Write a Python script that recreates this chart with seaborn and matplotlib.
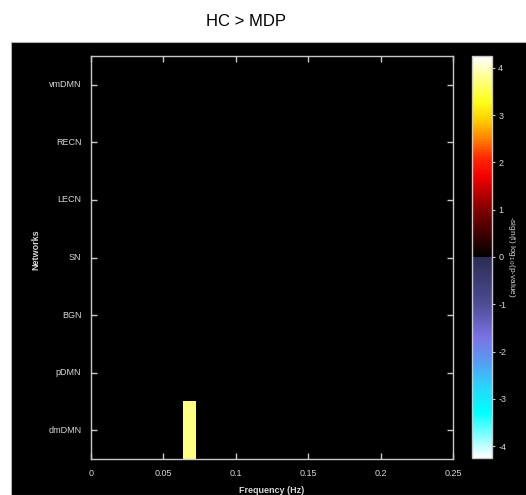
import numpy as np
import pandas as pd
import matplotlib
matplotlib.use("Agg")
import matplotlib.pyplot as plt
import seaborn as sns
from matplotlib.colors import LinearSegmentedColormap
from matplotlib.patches import Rectangle

plt.rcParams["font.family"] = ["Liberation Sans", "DejaVu Sans"]
plt.rcParams["axes.unicode_minus"] = False

# networks, top to bottom
networks = ["vmDMN", "RECN", "LECN", "SN", "BGN", "pDMN", "dmDMN"]
freq_max = 0.25
n_bins = 55
# significant cells: network, freq low, freq high, -sign(t) log10(p)
sig_network = ["dmDMN"]
sig_flo = [0.0636]
sig_fhi = [0.0727]
sig_value = [3.75]
xticks = [0, 0.05, 0.1, 0.15, 0.2, 0.25]
xticklabels = ["0", "0.05", "0.1", "0.15", "0.2", "0.25"]
cticks = [-4, -3, -2, -1, 0, 1, 2, 3, 4]
vlim = 4.25

edges = np.linspace(0, freq_max, n_bins + 1)
centers = (edges[:-1] + edges[1:]) / 2
grid = np.zeros((len(networks), n_bins))
for net, lo, hi, v in zip(sig_network, sig_flo, sig_fhi, sig_value):
    cols = (centers > lo) & (centers < hi)
    grid[networks.index(net), cols] = v
df = pd.DataFrame(grid, index=networks, columns=np.round(centers, 4))

# colormap: cool side below zero, hot side above
stops = [
    (-4.25, (1.0, 1.0, 1.0)),
    (-3.3, (0.0, 1.0, 1.0)),
    (-2.8, (0.15, 0.85, 1.0)),
    (-2.2, (0.35, 0.6, 0.95)),
    (-1.7, (0.48, 0.45, 0.9)),
    (-1.0, (0.3, 0.3, 0.58)),
    (-0.01, (0.17, 0.17, 0.33)),
    (0.0, (0.0, 0.0, 0.0)),
    (1.0, (0.5, 0.0, 0.0)),
    (1.7, (0.95, 0.0, 0.0)),
    (2.1, (1.0, 0.15, 0.0)),
    (2.5, (1.0, 0.5, 0.0)),
    (2.9, (1.0, 0.8, 0.0)),
    (3.3, (1.0, 1.0, 0.1)),
    (3.8, (1.0, 1.0, 0.55)),
    (4.25, (1.0, 1.0, 1.0)),
]
cmap = LinearSegmentedColormap.from_list(
    "hotcold", [((v + vlim) / (2 * vlim), c) for v, c in stops])

W, H = 526, 495
fig = plt.figure(figsize=(W / 100, H / 100), dpi=100)
fig.patches.append(Rectangle((11 / W, 0), 1, 1 - 42 / H, transform=fig.transFigure,
                             facecolor="black", edgecolor="#b0b0b0", linewidth=0.8, zorder=-10))

ax = fig.add_axes([91 / W, 36 / H, 362 / W, 403 / H])
cax = fig.add_axes([472 / W, 37 / H, 20 / W, 402 / H])

sns.heatmap(df, ax=ax, cmap=cmap, vmin=-vlim, vmax=vlim, cbar_ax=cax,
            mask=(df == 0), xticklabels=False, yticklabels=networks)

gray = "#c8c8c8"
ax.set_facecolor("black")
for s in ax.spines.values():
    s.set_visible(True)
    s.set_color(gray)
    s.set_linewidth(1.0)
ax.set_xticks([x / freq_max * n_bins for x in xticks])
ax.set_xticklabels(xticklabels)
ax.set_yticks(np.arange(len(networks)) + 0.5)
ax.set_yticklabels(networks, rotation=0)
ax.tick_params(direction="in", length=4, width=1, color=gray, labelcolor="#d8d8d8",
               labelsize=6.5, top=True, right=True, bottom=True, left=True, pad=7)
ax.set_xlabel("Frequency (Hz)", color="#d8d8d8", fontsize=6.5, fontweight="bold")
ax.set_ylabel("Networks", color="#d8d8d8", fontsize=6.5, fontweight="bold")
ax.xaxis.set_label_coords(0.5, -0.066)
ax.yaxis.set_label_coords(-0.141, 0.52)

cb = ax.collections[0].colorbar
cb.set_ticks(cticks)
cb.outline.set_visible(True)
cb.outline.set_edgecolor(gray)
cb.outline.set_linewidth(1.0)
cax.tick_params(length=2, width=0.8, color=gray, labelcolor="#d8d8d8", labelsize=6.5, pad=2.5)
cb.set_label("-sign(t) log$_{10}$(p-value)", color="#d8d8d8", fontsize=6,
             rotation=270, labelpad=8)

fig.text(245.5 / W, 1 - 21 / H, "HC > MDP", ha="center", va="center", fontsize=12)

fig.savefig("out.png", dpi=100, facecolor="white")
